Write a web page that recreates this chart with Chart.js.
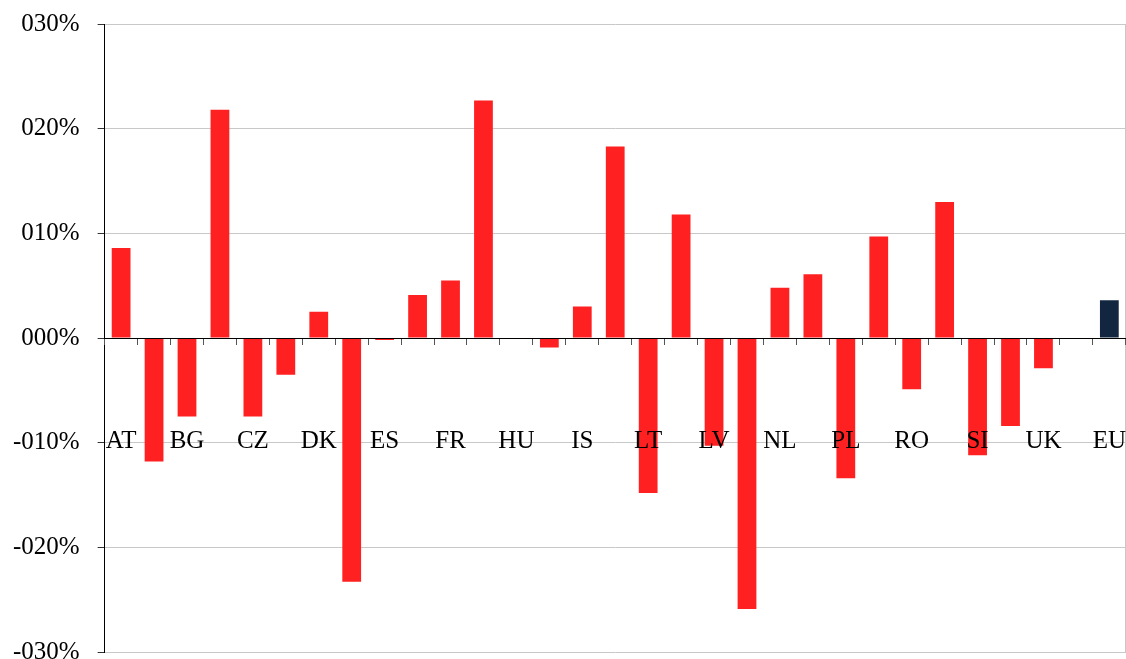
<!DOCTYPE html>
<html>
<head>
<meta charset="utf-8">
<script src="https://cdn.jsdelivr.net/npm/chart.js@4/dist/chart.umd.min.js"></script>
<style>
  html, body { margin: 0; padding: 0; background: #fff; overflow: hidden; }
  #wrap { width: 1126px; height: 659px; position: relative; }
</style>
</head>
<body>
<div id="wrap"><canvas id="chart"></canvas></div>
<script>
var countries = ['AT','BE','BG','CY','CZ','DE','DK','EE','ES','FI','FR','GR','HU','IE','IS','IT',
                 'LT','LU','LV','MT','NL','NO','PL','PT','RO','SE','SI','SK','UK','EA','EU'];
var changes   = [0.086,-0.118,-0.075,0.218,-0.075,-0.035,0.025,-0.233,-0.002,0.041,0.055,0.227,0,-0.009,0.030,0.183,
                 -0.148,0.118,-0.103,-0.259,0.048,0.061,-0.134,0.097,-0.049,0.130,-0.112,-0.084,-0.029,0,0.036];
var yTickLabels = ['-030%','-020%','-010%','000%','010%','020%','030%'];

var red  = '#ff2121';
var navy = '#12263f';
var family = '"Liberation Serif", "Times New Roman", serif';

var barColors = countries.map(function(c){ return c === 'EU' ? navy : red; });

var ctx = document.getElementById('chart').getContext('2d');
var chart = new Chart(ctx, {
    type: 'bar',
    data: {
        labels: countries,
        datasets: [{
            data: changes,
            backgroundColor: barColors,
            borderWidth: 0,
            barPercentage: 1,
            categoryPercentage: 0.57
        }]
    },
    options: {
        responsive: true,
        maintainAspectRatio: false,
        animation: false,
        layout: { padding: { left: 13, top: 24, right: 0, bottom: 7 } },
        plugins: { legend: { display: false }, tooltip: { enabled: false } },
        scales: {
            x: {
                type: 'category',
                position: { y: 0 },
                offset: true,
                grid: { offset: true, drawOnChartArea: false, tickLength: 6, tickColor: '#555', lineWidth: 1, z: 1 },
                border: { color: '#000', width: 1, z: 1 },
                ticks: {
                    z: 1,
                    autoSkip: false,
                    maxRotation: 0,
                    padding: 0,
                    color: '#000',
                    // tall line box pushes the labels down onto the -010% line
                    font: { family: family, size: 25, lineHeight: 7.76 },
                    callback: function(v, i){ return i % 2 === 0 ? countries[i] : ''; }
                }
            },
            y: {
                position: 'left',
                min: -0.3,
                max: 0.3,
                grid: { color: '#c8c8c8', tickLength: 7, tickColor: '#333', lineWidth: 1 },
                border: { color: '#000', width: 1 },
                ticks: {
                    stepSize: 0.1,
                    padding: 18,
                    color: '#000',
                    font: { family: family, size: 25 },
                    callback: function(v){ return yTickLabels[Math.round(v * 10) + 3]; }
                },
                afterFit: function(scale){
                    // the -030% label is allowed to run off the bottom, like the original
                    scale.width -= scale.options.ticks.padding;
                    scale.paddingTop = 0;
                    scale.paddingBottom = 0;
                }
            },
            y2: {
                position: 'right',
                min: -0.3,
                max: 0.3,
                grid: { drawOnChartArea: false, drawTicks: false },
                border: { color: '#c8c8c8', width: 1 },
                ticks: { display: false }
            }
        }
    }
});
</script>
</body>
</html>
